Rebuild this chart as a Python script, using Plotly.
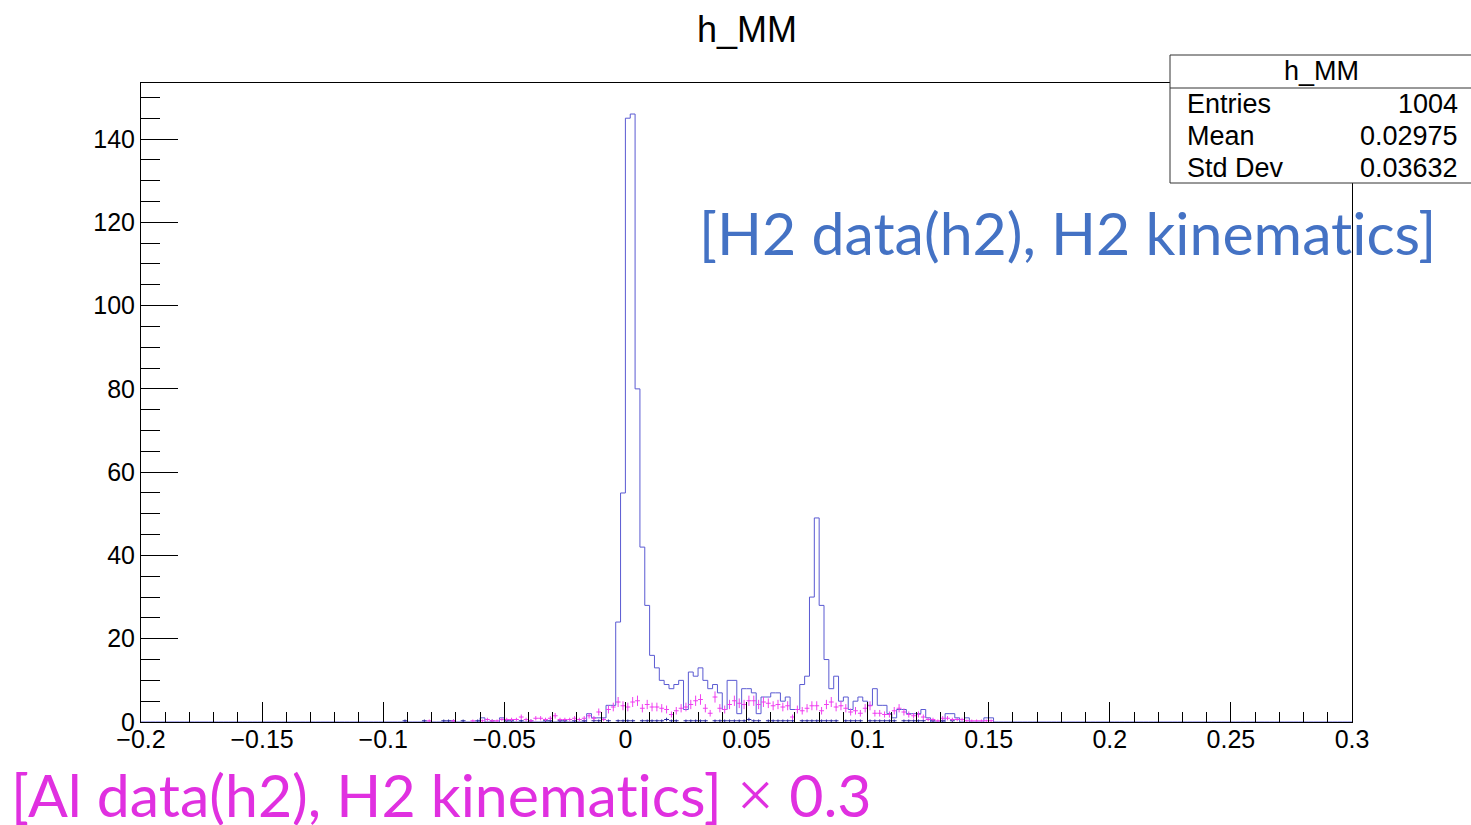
import numpy as np
import plotly.graph_objects as go

# ---------------- data ----------------
X_MIN, X_MAX, BIN_W = -0.2, 0.3, 0.002
REGION_START = -0.1  # first bin of the lists below (bins of width 0.002)

# H2 data (h2), H2 kinematics  -- counts per bin, from -0.100 to 0.160
blue_counts = [
    0, 0, 0, 0, 0, 0, 0, 0, 0, 0,          # -0.100 .. -0.082
    0, 0, 0, 0, 0, 0, 0, 0, 0, 0,          # -0.080 .. -0.062
    1, 0, 0, 0, 1, 0, 0, 0, 0, 0,          # -0.060 .. -0.042
    0, 0, 0, 0, 0, 0, 0, 0, 0, 0,          # -0.040 .. -0.022
    0, 0, 2, 1, 1, 1, 4, 4, 24, 55,        # -0.020 .. -0.002
    145, 146, 80, 42, 28, 16, 13, 10, 9, 8,   # 0.000 .. 0.018
    9, 10, 3, 12, 11, 13, 10, 8, 9, 7,     # 0.020 .. 0.038
    3, 10, 10, 2, 8, 8, 7, 2, 6, 6,        # 0.040 .. 0.058
    7, 7, 5, 6, 3, 3, 9, 11, 30, 49,       # 0.060 .. 0.078
    28, 15, 8, 11, 5, 6, 3, 5, 6, 5,       # 0.080 .. 0.098
    4, 8, 4, 4, 2, 1, 3, 3, 2, 2,          # 0.100 .. 0.118
    2, 3, 1, 0, 0, 0, 2, 2, 1, 0,          # 0.120 .. 0.138
    1, 0, 0, 0, 1, 1, 0, 0, 0, 0,          # 0.140 .. 0.158
]

# Al data (h2), H2 kinematics x 0.3
pink_values = [
    0, 0, 0, 0, 0, 0, 0, 0, 0, 0.3,
    0, 0, 0, 0, 0.3, 0, 0, 0, 0.3, 0,
    0.3, 0.6, 0.3, 0.3, 0.6, 0.6, 0.6, 0.6, 1.2, 0.6,
    0.3, 0.9, 0.9, 0.6, 0.9, 1.5, 0.6, 0.6, 0.6, 0.9,
    0.6, 0.9, 1.5, 0.9, 2.4, 0.6, 3.0, 3.6, 4.8, 3.9,
    3.6, 4.8, 5.1, 3.3, 4.2, 3.6, 3.6, 3.3, 3.0, 1.8,
    2.7, 3.3, 3.6, 4.2, 5.1, 5.4, 3.3, 2.1, 6.0, 3.3,
    3.0, 4.2, 5.1, 4.5, 4.2, 5.1, 5.1, 4.2, 4.8, 4.5,
    3.9, 4.2, 3.6, 3.9, 1.2, 3.0, 2.7, 3.3, 3.9, 3.9,
    2.7, 4.2, 4.8, 3.6, 3.9, 3.3, 2.4, 2.7, 2.1, 3.3,
    3.9, 2.1, 2.1, 1.8, 1.8, 2.7, 3.3, 2.4, 1.8, 1.5,
    1.8, 1.2, 0.6, 0.6, 0.3, 0.9, 0.9, 0.6, 0.6, 0.6,
    0.3, 0.3, 0.3, 0.3, 0.3, 0.3, 0, 0, 0, 0,
]

# small dark-blue component
navy_values = [
    0, 0, 0, 0, 0.3, 0, 0, 0, 0.3, 0,
    0, 0, 0.3, 0.3, 0.3, 0, 0.3, 0, 0, 0.3,
    0, 0, 0.3, 0, 0, 0.3, 0.3, 0, 0.3, 0,
    0.3, 0, 0, 0.3, 0.3, 0, 0.3, 0.3, 0, 0.3,
    0, 0.3, 0, 0.3, 0.3, 0, 0.3, 0, 0.3, 0.3,
    0.3, 0.3, 0, 0.3, 0.3, 0.3, 0.3, 0.3, 0.6, 0.3,
    0.3, 0, 0.3, 0.3, 0.3, 0.3, 0.3, 0, 0.3, 0.3,
    0.3, 0.3, 0.3, 0.3, 0.3, 0.6, 0.3, 0.3, 0, 0.3,
    0.3, 0.3, 0.3, 0.3, 0.3, 0, 0.3, 0.3, 0.3, 0.3,
    0.3, 0.3, 0.3, 0.3, 0, 0.3, 0.3, 0.3, 0.3, 0,
    0.3, 0.3, 0.3, 0.3, 0.3, 0.3, 0, 0.3, 0.3, 0.3,
    0.3, 0.3, 0, 0.3, 0, 0.3, 0, 0.3, 0, 0,
    0, 0, 0, 0, 0, 0, 0, 0, 0, 0,
]

x_tick_vals = [-0.2, -0.15, -0.1, -0.05, 0, 0.05, 0.1, 0.15, 0.2, 0.25, 0.3]
x_tick_text = ["\u22120.2", "\u22120.15", "\u22120.1", "\u22120.05", "0", "0.05",
               "0.1", "0.15", "0.2", "0.25", "0.3"]

stats_title = "h_MM"
stats_rows = [("Entries", "1004"), ("Mean", "0.02975"), ("Std Dev", "0.03632")]
Y_MAX = 153.45

# ---------------- build ----------------
n_bins = int(round((X_MAX - X_MIN) / BIN_W))
edges = X_MIN + BIN_W * np.arange(n_bins + 1)
start = int(round((REGION_START - X_MIN) / BIN_W))

full_blue = np.zeros(n_bins)
full_blue[start:start + len(blue_counts)] = blue_counts
centers = edges[:-1] + BIN_W / 2
reg_centers = centers[start:start + len(blue_counts)]

fig = go.Figure()

fig.add_trace(go.Scatter(
    x=edges, y=np.append(full_blue, full_blue[-1]), mode="lines",
    line=dict(shape="hv", color="#5a5ad2", width=1), showlegend=False,
    hoverinfo="skip"))

def err_trace(vals, color):
    v = np.array(vals, dtype=float)
    m = v > 0
    return go.Scatter(
        x=reg_centers[m], y=v[m], mode="markers",
        marker=dict(size=1, color=color),
        error_y=dict(type="data", array=np.sqrt(0.3 * v[m]), color=color,
                     thickness=1, width=0),
        error_x=dict(type="constant", value=BIN_W / 2, color=color,
                     thickness=1, width=0),
        showlegend=False, hoverinfo="skip")

fig.add_trace(err_trace(navy_values, "#2a2a9c"))
fig.add_trace(err_trace(pink_values, "#f040f0"))

W, H = 1471, 825
L, R, T, B = 141, 1352, 83, 722

def px(x):
    return (x - L) / (R - L)

def py(y):
    return (B - y) / (B - T)

font = "Liberation Sans, Arial, sans-serif"
axis_common = dict(showline=True, linecolor="black", linewidth=1, mirror=True,
                   showgrid=False, zeroline=False, ticks="inside",
                   tickcolor="black", tickwidth=1,
                   tickfont=dict(family=font, size=25, color="black"))

fig.update_layout(
    width=W, height=H, autosize=False,
    margin=dict(l=L, r=W - R, t=T, b=H - B, pad=0),
    paper_bgcolor="white", plot_bgcolor="white",
    xaxis=dict(range=[X_MIN, X_MAX], tickmode="array", tickvals=x_tick_vals,
               ticktext=x_tick_text, ticklen=20, ticklabelstandoff=-5,
               minor=dict(tick0=X_MIN, dtick=0.01, ticks="inside", ticklen=10,
                          tickcolor="black", tickwidth=1),
               **axis_common),
    yaxis=dict(range=[0, Y_MAX], tick0=0, dtick=20, ticklen=37,
               minor=dict(tick0=0, dtick=5, ticks="inside", ticklen=19,
                          tickcolor="black", tickwidth=1),
               **axis_common),
)

shapes = [
    dict(type="rect", xref="paper", yref="paper", x0=px(1170), x1=px(1480),
         y0=py(183), y1=py(55), line=dict(color="#333333", width=1),
         fillcolor="white", layer="above"),
    dict(type="line", xref="paper", yref="paper", x0=px(1170), x1=px(1480),
         y0=py(88), y1=py(88), line=dict(color="#333333", width=1), layer="above"),
]
fig.update_layout(shapes=shapes)

ann = []
ann.append(dict(text="h_MM", x=px(747), y=py(30), xref="paper", yref="paper",
                showarrow=False, xanchor="center", yanchor="middle",
                font=dict(family=font, size=36, color="black")))
ann.append(dict(text=stats_title, x=px(1321), y=py(71), xref="paper", yref="paper",
                showarrow=False, xanchor="center", yanchor="middle",
                font=dict(family=font, size=27, color="black")))
for i, (lab, val) in enumerate(stats_rows):
    yy = py(104 + 32 * i)
    ann.append(dict(text=lab, x=px(1185), y=yy, xref="paper", yref="paper",
                    showarrow=False, xanchor="left", yanchor="middle",
                    font=dict(family=font, size=27, color="black")))
    ann.append(dict(text=val, x=px(1460), y=yy, xref="paper", yref="paper",
                    showarrow=False, xanchor="right", yanchor="middle",
                    font=dict(family=font, size=27, color="black")))

ann.append(dict(text="[H2 data(h2), H2 kinemat\u200cics]", x=px(697), y=py(233),
                xref="paper", yref="paper", showarrow=False,
                xanchor="left", yanchor="middle",
                font=dict(family="Lato, sans-serif", size=59, color="#4472c4")))
ann.append(dict(text="[Al data(h2), H2 kinemat\u200cics] <span style='font-family:Liberation Serif;font-size:66px'>\u00d7</span> 0.3",
                x=px(9), y=py(794),
                xref="paper", yref="paper", showarrow=False,
                xanchor="left", yanchor="middle",
                font=dict(family="Lato, sans-serif", size=59, color="#e030e0")))
fig.update_layout(annotations=ann)

fig.write_html("out.html")
